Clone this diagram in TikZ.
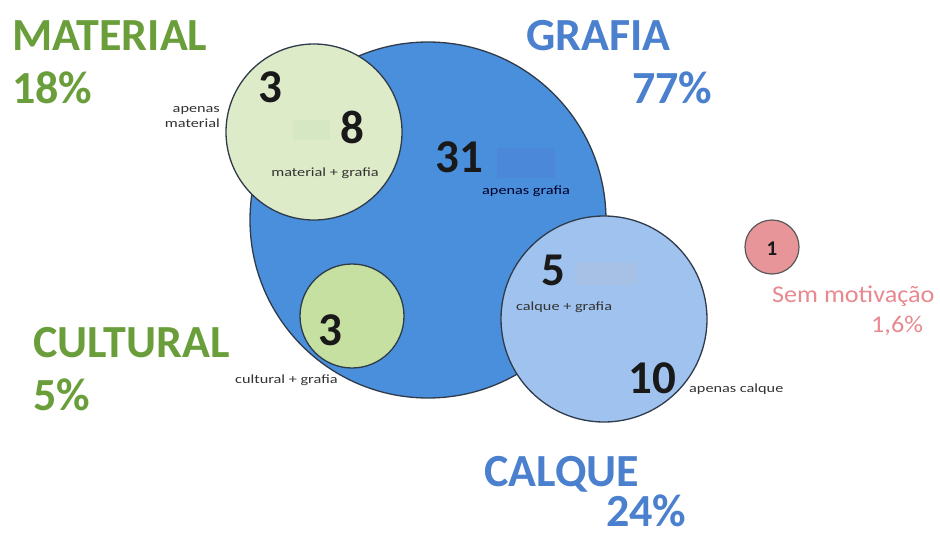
\documentclass[tikz,border=0pt]{standalone}
\usepackage{fontspec}
\setmainfont{Carlito}
\usepackage{graphicx}
\definecolor{bigblue}{HTML}{4A8FDC}
\definecolor{lightblue}{HTML}{A0C2EE}
\definecolor{palegreen}{HTML}{DEEBC8}
\definecolor{midgreen}{HTML}{C5E0A0}
\definecolor{pinkfill}{HTML}{E8959A}
\definecolor{titlegreen}{HTML}{6A9E3A}
\definecolor{titleblue}{HTML}{4A80CD}
\definecolor{pinktext}{HTML}{E8888F}
\definecolor{edge}{HTML}{2F3B4A}
\definecolor{patchgreen}{HTML}{D5E7C3}
\definecolor{patchblue}{HTML}{4C88DA}
\definecolor{patchlight}{HTML}{A7C0E6}
\tikzset{
  setcircle/.style={circle, draw=edge, line width=1.3pt, inner sep=0pt},
  title/.style={anchor=base west, inner sep=0pt, font=\fontsize{46}{46}\selectfont\bfseries},
  num/.style={anchor=base west, inner sep=0pt, font=\fontsize{47}{47}\selectfont\bfseries, text=black!90},
  small/.style={inner sep=0pt, font=\fontsize{12.5}{15}\selectfont, text=black!80},
  patch/.style={draw=none, inner sep=0pt}
}
\newcommand{\wide}[1]{\scalebox{1.3}[1]{#1}}
\begin{document}
\begin{tikzpicture}[x=1pt,y=-1pt]
\useasboundingbox[fill=white] (0,0) rectangle (940,538);
% circles
\node[setcircle, fill=bigblue, minimum size=356pt] (grafia) at (428,220) {};
\node[setcircle, fill=lightblue, minimum size=206pt] (calque) at (604,319) {};
\node[setcircle, fill=palegreen, minimum size=176pt] (material) at (314,132) {};
\node[setcircle, fill=midgreen, minimum size=104pt] (cultural) at (352,316) {};
\node[setcircle, fill=pinkfill, minimum size=54pt, line width=1.2pt, draw=black!65] (sem) at (772,247) {};
% faint patches
\node[patch, fill=patchgreen, minimum width=37pt, minimum height=20pt] (pm) at (311.5,130) {};
\node[patch, fill=patchblue, minimum width=58pt, minimum height=30pt] (pg) at (526,163) {};
\node[patch, fill=patchlight, minimum width=61pt, minimum height=22pt] (pc) at (606.5,274) {};
% titles
\node[title, text=titlegreen] (tmat) at (12,50) {MATERIAL};
\node[title, text=titlegreen] (tmatp) at (12,103) {18\%};
\node[title, text=titleblue] (tgra) at (526,50) {GRAFIA};
\node[title, text=titleblue] (tgrap) at (632,103) {77\%};
\node[title, text=titlegreen] (tcul) at (33,357) {CULTURAL};
\node[title, text=titlegreen] (tculp) at (33,410) {5\%};
\node[title, text=titleblue] (tcal) at (484,486) {CALQUE};
\node[title, text=titleblue] (tcalp) at (606,526) {24\%};
\node[anchor=base west, inner sep=0pt, font=\fontsize{24}{24}\selectfont, text=pinktext] (tsem) at (772,302) {\scalebox{1.09}[1]{Sem motivação}};
\node[anchor=base west, inner sep=0pt, font=\fontsize{24}{24}\selectfont, text=pinktext] (tsemp) at (871,332) {\scalebox{1.09}[1]{1,6\%}};
% numbers
\node[num] (n3m) at (258,102) {3};
\node[num] (n8) at (340,143) {8};
\node[num] (n31) at (435,172) {31};
\node[num] (n5) at (541,285) {5};
\node[num] (n10) at (628,393) {10};
\node[num] (n3c) at (318,345) {3};
\node[anchor=base, inner sep=0pt, font=\fontsize{21}{21}\selectfont\bfseries, text=black!90] (n1) at (772,255) {1};
% small labels
\node[small, anchor=base east, align=right] (lam) at (220,127) {\wide{apenas}\\\wide{material}};
\node[small, anchor=base] (lmg) at (325,176) {\wide{material + grafia}};
\node[small, anchor=base west, text=black!85!blue] (lag) at (482,194) {\wide{apenas grafia}};
\node[small, anchor=base west] (lcg) at (516,310) {\wide{calque + grafia}};
\node[small, anchor=base west] (lac) at (689,392) {\wide{apenas calque}};
\node[small, anchor=base west] (lcug) at (235,383) {\wide{cultural + grafia}};
\end{tikzpicture}
\end{document}
